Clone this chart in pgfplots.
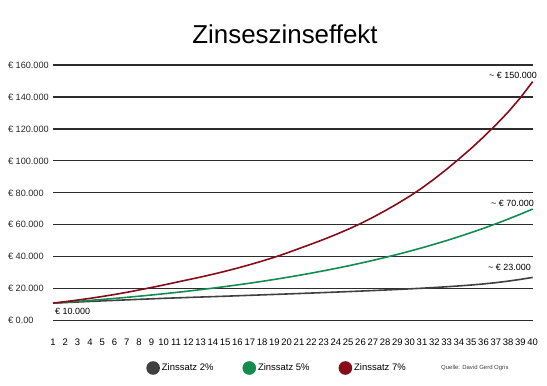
\documentclass[border=0pt]{standalone}
\usepackage{pgfplots}
\pgfplotsset{compat=1.18}
\usepackage{pgfplotstable}
\usepackage{fontspec}
\setmainfont{Liberation Sans}
\definecolor{cgray}{RGB}{64,64,64}
\definecolor{cgreen}{RGB}{20,140,80}
\definecolor{cred}{RGB}{135,12,24}
\definecolor{cgrid}{RGB}{45,45,45}

\pgfplotstableread{
n gray green red
1 11000 11000 11000
2 11350 11534 11914
3 11700 12094 12904
4 12050 12681 13976
5 12400 13297 15138
6 12720 13942 16396
7 13040 14619 17758
8 13360 15329 19234
9 13680 16073 20770
10 14000 16853 22334
11 14270 17671 24016
12 14540 18529 25650
13 14800 19429 27302
14 15060 20372 29060
15 15320 21361 30932
16 15600 22398 32924
17 15880 23486 35045
18 16160 24626 37302
19 16440 25822 39705
20 16720 27075 42312
21 17010 28390 45134
22 17300 29768 47933
23 17600 31213 50847
24 17900 32729 53939
25 18210 34318 57218
26 18530 35984 60750
27 18860 37731 64650
28 19200 39563 68801
29 19550 41484 73218
30 19920 43498 77919
31 20320 45610 83056
32 20760 47824 88704
33 21240 50146 94736
34 21760 52580 101158
35 22330 55133 107834
36 23000 57810 114951
37 23800 60617 122520
38 24750 63560 130497
39 25850 66646 139500
40 27100 69881 149600
}\zdata

\begin{document}
\begin{tikzpicture}
\useasboundingbox (0,0) rectangle (547bp,386bp);
\begin{axis}[
  at={(53bp,65.3bp)}, anchor=south west,
  scale only axis, width=479.7bp, height=255.7bp,
  xmin=1, xmax=40, ymin=0, ymax=160000,
  scaled y ticks=false,
  axis line style={draw=none},
  major tick length=0pt,
  xtick={1,...,40},
  ytick={0,20000,...,160000},
  yticklabels={€ 0.00, € 20.000, € 40.000, € 60.000, € 80.000, € 100.000, € 120.000, € 140.000, € 160.000},
  ymajorgrids,
  grid style={cgrid, line width=1.2bp},
  clip=false,
  xticklabel style={font=\fontsize{9.5}{10}\selectfont, /pgf/number format/assume math mode=true, yshift=-14.8bp},
  yticklabel style={font=\fontsize{9.2}{10}\selectfont, anchor=west, xshift=-48.5bp, text=black!85},
  legend cell align=left,
  legend style={at={(0.467,-0.185)}, anchor=center, draw=none, fill=none,
    font=\fontsize{9.5}{11}\selectfont, legend columns=3,
    /tikz/every even column/.append style={column sep=27bp}},
  legend image code/.code={\fill[#1] (6bp,0) circle (6bp);},
]
\addplot[cgray, line width=1.6bp] table[x=n, y=gray] {\zdata};
\addlegendentry{Zinssatz 2\%}
\addplot[cgreen, line width=1.6bp] table[x=n, y=green] {\zdata};
\addlegendentry{Zinssatz 5\%}
\addplot[cred, line width=1.6bp] table[x=n, y=red] {\zdata};
\addlegendentry{Zinssatz 7\%}
\end{axis}
\node[font=\fontsize{26}{30}\selectfont] at (285bp,352bp) {Zinseszinseffekt};
\node[font=\fontsize{9}{10}\selectfont, anchor=east, inner sep=0pt] at (537bp,311bp) {\textasciitilde\ € 150.000};
\node[font=\fontsize{9}{10}\selectfont, anchor=east, inner sep=0pt] at (534bp,183bp) {\textasciitilde\ € 70.000};
\node[font=\fontsize{9}{10}\selectfont, anchor=east, inner sep=0pt] at (531bp,119bp) {\textasciitilde\ € 23.000};
\node[font=\fontsize{9}{10}\selectfont, anchor=west, inner sep=0pt] at (55bp,75bp) {€ 10.000};
\node[font=\fontsize{6}{7}\selectfont, anchor=west, inner sep=0pt, text=black!75] at (441bp,18bp) {Quelle: David Gerd Ogris};
\end{tikzpicture}
\end{document}
